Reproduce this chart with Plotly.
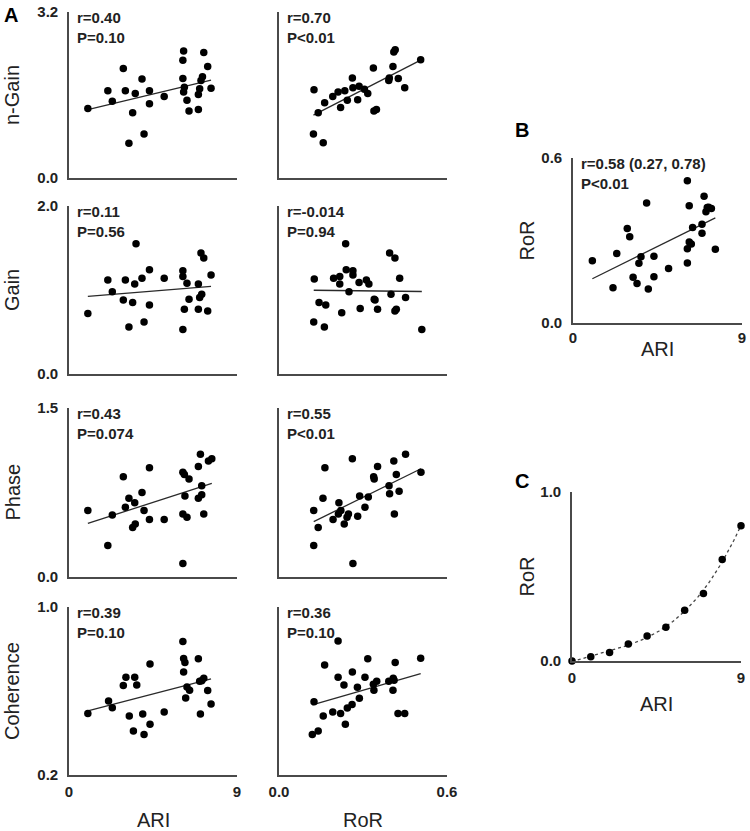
import numpy as np
import plotly.graph_objects as go

W, H = 750, 831

# ---------------- data ----------------
# Panel A, column 1: ARI vs metric
ari_ngain_x = [1.01, 2.08, 2.32, 2.91, 3.02, 3.21, 3.41, 3.55, 3.91, 4.02, 4.31, 4.31, 5.10, 6.10,
               6.14, 6.10, 6.18, 6.14, 6.32, 6.43, 6.93, 6.93, 7.00, 7.07, 7.15, 7.22, 7.43, 7.61]
ari_ngain_y = [1.34, 1.68, 1.48, 2.11, 1.68, 0.67, 1.26, 1.63, 1.91, 0.85, 1.68, 1.43, 1.57, 2.27,
               2.45, 1.92, 1.75, 1.66, 1.50, 1.29, 1.32, 1.61, 1.72, 1.88, 1.95, 2.42, 2.15, 1.73]

ari_gain_x = [1.01, 2.08, 2.32, 2.91, 3.02, 3.21, 3.41, 3.52, 3.59, 3.91, 4.02, 4.31, 4.31, 5.10,
              6.10, 6.10, 6.10, 6.18, 6.32, 6.43, 6.93, 6.93, 7.00, 7.11, 7.07, 7.22, 7.43, 7.61]
ari_gain_y = [0.72, 1.12, 0.98, 0.88, 1.12, 0.56, 0.85, 1.07, 1.55, 1.14, 0.62, 1.24, 0.82, 1.14,
              1.23, 1.16, 0.53, 0.77, 1.08, 0.89, 1.07, 0.77, 0.91, 0.95, 1.44, 1.38, 0.75, 1.18]

ari_phase_x = [1.01, 2.08, 2.32, 2.91, 3.02, 3.21, 3.41, 3.55, 3.52, 3.91, 4.02, 4.31, 4.31, 5.10,
               6.10, 6.18, 6.43, 6.21, 6.10, 6.32, 6.10, 6.93, 7.04, 7.11, 6.93, 7.11, 7.22, 7.47, 7.65]
ari_phase_y = [0.59, 0.28, 0.55, 0.89, 0.62, 0.70, 0.44, 0.47, 0.66, 0.75, 0.59, 0.97, 0.51, 0.51,
               0.93, 0.91, 0.87, 0.72, 0.56, 0.53, 0.12, 0.98, 1.09, 0.81, 0.70, 0.73, 0.56, 1.03, 1.05]

ari_coh_x = [1.01, 2.12, 2.32, 2.91, 3.05, 3.23, 3.45, 3.52, 3.63, 3.95, 4.02, 4.34, 4.34, 5.10,
             6.10, 6.14, 6.21, 6.14, 6.32, 6.46, 6.25, 6.93, 7.00, 7.11, 7.22, 7.04, 7.43, 7.61]
ari_coh_y = [0.493, 0.552, 0.520, 0.626, 0.665, 0.481, 0.410, 0.665, 0.629, 0.490, 0.393, 0.442,
             0.728, 0.500, 0.836, 0.755, 0.736, 0.691, 0.619, 0.603, 0.567, 0.753, 0.646, 0.649,
             0.661, 0.490, 0.602, 0.538]

# Panel A, column 2: RoR vs metric
ror_ngain_x = [0.123, 0.158, 0.125, 0.140, 0.163, 0.192, 0.211, 0.220, 0.235, 0.244, 0.262, 0.264,
               0.281, 0.286, 0.305, 0.317, 0.337, 0.339, 0.348, 0.392, 0.394, 0.407, 0.410, 0.415,
               0.426, 0.449, 0.506]
ror_ngain_y = [0.85, 0.68, 1.70, 1.26, 1.45, 1.57, 1.66, 1.36, 1.68, 1.50, 1.93, 1.74, 1.51, 1.77,
               1.71, 1.63, 2.12, 1.29, 1.32, 1.88, 1.93, 2.15, 2.43, 2.47, 1.92, 1.74, 2.28]

ror_gain_x = [0.126, 0.124, 0.143, 0.162, 0.167, 0.195, 0.217, 0.217, 0.224, 0.238, 0.240, 0.250,
              0.264, 0.264, 0.286, 0.290, 0.312, 0.321, 0.340, 0.343, 0.352, 0.395, 0.414, 0.400,
              0.414, 0.419, 0.431, 0.452, 0.510]
ror_gain_y = [1.13, 0.62, 0.85, 0.56, 0.82, 1.14, 1.16, 1.07, 0.73, 1.55, 1.24, 0.98, 1.23, 1.18,
              1.09, 0.78, 1.12, 1.07, 0.89, 0.88, 0.77, 1.44, 1.38, 0.95, 0.75, 0.77, 1.14, 0.91, 0.53]

ror_phase_x = [0.124, 0.124, 0.140, 0.157, 0.164, 0.193, 0.214, 0.212, 0.221, 0.233, 0.243, 0.248,
               0.262, 0.264, 0.281, 0.288, 0.307, 0.319, 0.338, 0.340, 0.352, 0.393, 0.395, 0.410,
               0.412, 0.419, 0.429, 0.452, 0.507]
ror_phase_y = [0.59, 0.28, 0.44, 0.70, 0.97, 0.51, 0.66, 0.56, 0.59, 0.47, 0.53, 0.56, 1.05, 0.12,
               0.54, 0.72, 0.62, 0.71, 0.89, 0.87, 0.98, 0.81, 0.74, 1.03, 0.56, 0.91, 0.76, 1.09, 0.93]

ror_coh_x = [0.119, 0.140, 0.125, 0.158, 0.163, 0.192, 0.211, 0.211, 0.220, 0.232, 0.237, 0.244,
             0.261, 0.262, 0.280, 0.287, 0.307, 0.317, 0.337, 0.339, 0.349, 0.392, 0.408, 0.411,
             0.407, 0.415, 0.425, 0.449, 0.506]
ror_coh_y = [0.393, 0.410, 0.549, 0.481, 0.724, 0.500, 0.838, 0.665, 0.493, 0.629, 0.442, 0.519,
             0.536, 0.691, 0.618, 0.565, 0.665, 0.753, 0.632, 0.603, 0.646, 0.646, 0.661, 0.651,
             0.603, 0.736, 0.493, 0.493, 0.756]

# Panel B: ARI vs RoR
b_ari = [1.03, 2.13, 2.33, 2.89, 3.02, 3.20, 3.41, 3.51, 3.62, 3.92, 4.01, 4.31, 4.31, 5.09, 6.09,
         6.19, 6.09, 6.09, 6.19, 6.30, 6.37, 6.87, 6.87, 6.98, 7.08, 7.15, 7.22, 7.37, 7.58]
b_ror = [0.226, 0.128, 0.253, 0.344, 0.314, 0.166, 0.144, 0.217, 0.241, 0.436, 0.124, 0.168, 0.243,
         0.198, 0.517, 0.426, 0.218, 0.270, 0.295, 0.287, 0.347, 0.359, 0.326, 0.461, 0.405, 0.420,
         0.421, 0.416, 0.268]

# Panel C: ARI vs RoR (binned)
c_ari = [0, 1, 2, 3, 4, 5, 6, 7, 8, 9]
c_ror = [0.0, 0.025, 0.05, 0.10, 0.148, 0.20, 0.30, 0.40, 0.60, 0.80]

# labels
row_titles = ["n-Gain", "Gain", "Phase", "Coherence"]
row_ranges = [(0.0, 3.2), (0.0, 2.0), (0.0, 1.5), (0.2, 1.0)]
row_ticktext = [("0.0", "3.2"), ("0.0", "2.0"), ("0.0", "1.5"), ("0.2", "1.0")]
ari_stats = [("0.40", "=0.10"), ("0.11", "=0.56"), ("0.43", "=0.074"), ("0.39", "=0.10")]
ror_stats = [("0.70", "&lt;0.01"), ("-0.014", "=0.94"), ("0.55", "&lt;0.01"), ("0.36", "=0.10")]

# ---------------- layout geometry (pixels) ----------------
LEFT = (69, 237)
RIGHT = (279, 447)
ROWS = [(12, 178), (206, 374), (408, 577), (607, 775)]
B_BOX = ((573, 742), (158, 323))
C_BOX = ((572, 741), (492, 661))

FONT = "Liberation Sans, Arial, sans-serif"
TXT = "#222222"
AX = "#4a4a4a"

fig = go.Figure()
layout = dict(width=W, height=H, margin=dict(l=0, r=0, t=0, b=0, autoexpand=False),
              paper_bgcolor="white", plot_bgcolor="white", showlegend=False,
              font=dict(family=FONT, color=TXT))
annotations = []

def px_x(p):
    return p / W

def px_y(p):
    return 1 - p / H

panels = []
ari_x = [ari_ngain_x, ari_gain_x, ari_phase_x, ari_coh_x]
ari_y = [ari_ngain_y, ari_gain_y, ari_phase_y, ari_coh_y]
ror_x = [ror_ngain_x, ror_gain_x, ror_phase_x, ror_coh_x]
ror_y = [ror_ngain_y, ror_gain_y, ror_phase_y, ror_coh_y]
for i in range(4):
    last = i == 3
    panels.append(dict(x=ari_x[i], y=ari_y[i], xbox=LEFT, ybox=ROWS[i], xr=(0, 9), yr=row_ranges[i],
                       xtt=("0", "9") if last else None, ytt=row_ticktext[i],
                       stat=ari_stats[i], fit="lin", xtl=2))
    panels.append(dict(x=ror_x[i], y=ror_y[i], xbox=RIGHT, ybox=ROWS[i], xr=(0, 0.6), yr=row_ranges[i],
                       xtt=("0.0", "0.6") if last else None, ytt=None,
                       stat=ror_stats[i], fit="lin", xtl=2))
panels.append(dict(x=b_ari, y=b_ror, xbox=B_BOX[0], ybox=B_BOX[1], xr=(0, 9), yr=(0, 0.6),
                   xtt=("0", "9"), ytt=("0.0", "0.6"), stat=("0.58 (0.27, 0.78)", "&lt;0.01"),
                   fit="lin", xtl=0))
panels.append(dict(x=c_ari, y=c_ror, xbox=C_BOX[0], ybox=C_BOX[1], xr=(0, 9), yr=(0, 1.0),
                   xtt=("0", "9"), ytt=("0.0", "1.0"), stat=None, fit="poly", xtl=2))

for k, p in enumerate(panels, start=1):
    xa = "x" if k == 1 else f"x{k}"
    ya = "y" if k == 1 else f"y{k}"
    xname = "xaxis" if k == 1 else f"xaxis{k}"
    yname = "yaxis" if k == 1 else f"yaxis{k}"
    (xl, xrgt), (yt, yb) = p["xbox"], p["ybox"]
    layout[xname] = dict(domain=[px_x(xl), px_x(xrgt)], range=list(p["xr"]), anchor=ya,
                         automargin=False,
                         showgrid=False, zeroline=False, showline=True, linecolor=AX, linewidth=1.6,
                         ticks="outside" if p["xtl"] > 0 else "", ticklen=max(p["xtl"], 1),
                         tickcolor="rgba(0,0,0,0)",
                         tickvals=list(p["xr"]) if p["xtt"] else [],
                         ticktext=[f"<b>{t}</b>" for t in p["xtt"]] if p["xtt"] else [],
                         tickfont=dict(size=15, family=FONT, color=TXT), fixedrange=True)
    yt_vals = list(p["yr"]) if p["ytt"] else []
    layout[yname] = dict(domain=[px_y(yb), px_y(yt)], range=list(p["yr"]), anchor=xa,
                         automargin=False,
                         showgrid=False, zeroline=False, showline=True, linecolor=AX, linewidth=1.6,
                         ticks="outside", ticklen=6, tickcolor="rgba(0,0,0,0)",
                         tickvals=yt_vals,
                         ticktext=[f"<b>{t}</b>" for t in p["ytt"]] if p["ytt"] else [],
                         tickfont=dict(size=15, family=FONT, color=TXT), fixedrange=True)

    xs = np.array(p["x"], dtype=float)
    ys = np.array(p["y"], dtype=float)
    if p["fit"] == "lin":
        m, c = np.polyfit(xs, ys, 1)
        lx = np.array([xs.min(), xs.max()])
        fig.add_trace(go.Scatter(x=lx, y=m * lx + c, mode="lines", xaxis=xa, yaxis=ya,
                                 line=dict(color="#2a2a2a", width=1.3), hoverinfo="skip"))
    else:
        coef = np.polyfit(xs, ys, 3)
        lx = np.linspace(xs.min(), xs.max(), 120)
        fig.add_trace(go.Scatter(x=lx, y=np.polyval(coef, lx), mode="lines", xaxis=xa, yaxis=ya,
                                 line=dict(color="#444444", width=1.3, dash="dot"), hoverinfo="skip"))
    fig.add_trace(go.Scatter(x=xs, y=ys, mode="markers", xaxis=xa, yaxis=ya, cliponaxis=False,
                             marker=dict(color="black", size=7.5, line=dict(width=0))))

    if p["stat"]:
        r, pv = p["stat"]
        annotations.append(dict(text=f"<b>r={r}<br>P{pv}</b>", xref="paper", yref="paper",
                                x=px_x(xl + 6), y=px_y(yt - 5), xanchor="left", yanchor="top",
                                align="left", showarrow=False,
                                font=dict(size=15, family=FONT, color=TXT)))

# axis titles
for i, t in enumerate(row_titles):
    yt, yb = ROWS[i]
    annotations.append(dict(text=t, xref="paper", yref="paper", x=px_x(12), y=px_y((yt + yb) / 2),
                            textangle=-90, showarrow=False, xanchor="center", yanchor="middle",
                            font=dict(size=20, family=FONT, color=TXT)))
for txt, cx, cy in [("ARI", (LEFT[0] + LEFT[1]) / 2, 820), ("RoR", (RIGHT[0] + RIGHT[1]) / 2, 820),
                    ("ARI", (B_BOX[0][0] + B_BOX[0][1]) / 2, 349),
                    ("ARI", (C_BOX[0][0] + C_BOX[0][1]) / 2, 704)]:
    annotations.append(dict(text=txt, xref="paper", yref="paper", x=px_x(cx), y=px_y(cy),
                            showarrow=False, xanchor="center", yanchor="middle",
                            font=dict(size=20, family=FONT, color=TXT)))
for cy in [(B_BOX[1][0] + B_BOX[1][1]) / 2, (C_BOX[1][0] + C_BOX[1][1]) / 2]:
    annotations.append(dict(text="RoR", xref="paper", yref="paper", x=px_x(526), y=px_y(cy),
                            textangle=-90, showarrow=False, xanchor="center", yanchor="middle",
                            font=dict(size=20, family=FONT, color=TXT)))
# panel letters
for letter, cx, cy in [("A", 11, 15), ("B", 522, 130), ("C", 522, 481)]:
    annotations.append(dict(text=f"<b>{letter}</b>", xref="paper", yref="paper", x=px_x(cx), y=px_y(cy),
                            showarrow=False, xanchor="center", yanchor="middle",
                            font=dict(size=20, family=FONT, color="black")))

layout["annotations"] = annotations
fig.update_layout(**layout)
fig.write_html("out.html", config={"displayModeBar": False},
               post_script="document.body.style.margin='0';document.body.style.overflow='hidden';")
